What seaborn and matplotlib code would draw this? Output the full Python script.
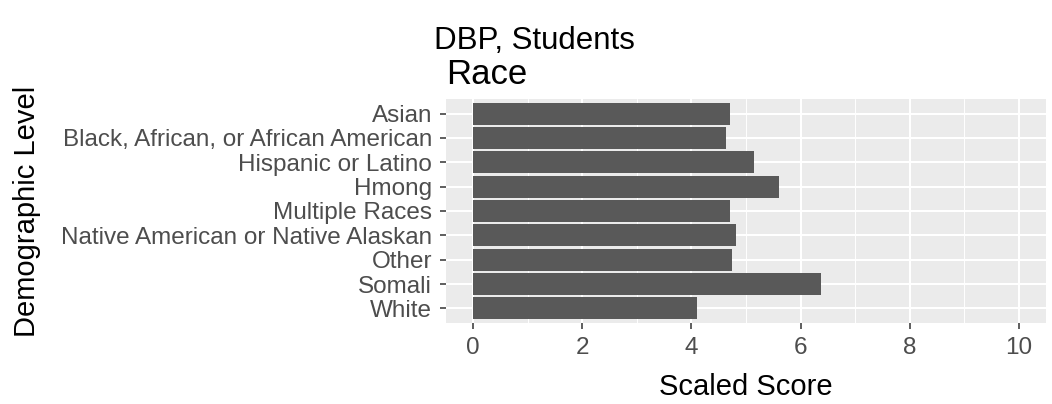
import matplotlib
matplotlib.use("Agg")
import matplotlib.pyplot as plt
import seaborn as sns
import pandas as pd
from matplotlib.ticker import MultipleLocator

# values
groups = ["Asian", "Black, African, or African American", "Hispanic or Latino",
          "Hmong", "Multiple Races", "Native American or Native Alaskan",
          "Other", "Somali", "White"]
scores = [4.71, 4.64, 5.15, 5.60, 4.71, 4.82, 4.74, 6.37, 4.11]
x_ticks = [0, 2, 4, 6, 8, 10]

df = pd.DataFrame({"group": groups, "score": scores})

sns.set_theme(style="darkgrid")
plt.rcParams['font.family'] = ['Liberation Sans', 'DejaVu Sans']

fig = plt.figure(figsize=(10.52, 4.04), dpi=100)
ax = fig.add_axes([446 / 1052, 81 / 404, 600 / 1052, 224 / 404])
ax.set_facecolor('#EBEBEB')

sns.barplot(data=df, x="score", y="group", order=groups, color="#595959",
            width=0.9, saturation=1, edgecolor="none", ax=ax, zorder=3)

ax.set_xlim(-0.5, 10.5)
ax.set_ylim(8.6, -0.6)
ax.set_xticks(x_ticks)
ax.xaxis.set_minor_locator(MultipleLocator(1))
ax.grid(which='major', color='white', linewidth=1.5, zorder=0)
ax.grid(which='minor', axis='x', color='white', linewidth=0.7, zorder=0)
ax.set_axisbelow(True)
for s in ax.spines.values():
    s.set_visible(False)

ax.tick_params(axis='both', which='major', length=4.5, width=1.1, color='#333333',
               labelcolor='#4D4D4D', labelsize=17.5, pad=5.5, bottom=True, left=True)
ax.tick_params(axis='both', which='minor', length=0)

ax.set_xlabel("Scaled Score", fontsize=21, color='black')
ax.xaxis.set_label_coords(0.5, -0.225)
ax.set_ylabel("Demographic Level", fontsize=21, color='black')
ax.yaxis.set_label_coords(-0.675, 0.5)
ax.set_title("Race", fontsize=25, loc='left', color='black', pad=11)
fig.suptitle("DBP, Students", fontsize=22.5, x=534 / 1052, y=1 - 41 / 404,
             va='center', color='black')

fig.savefig("out.png", dpi=100)
